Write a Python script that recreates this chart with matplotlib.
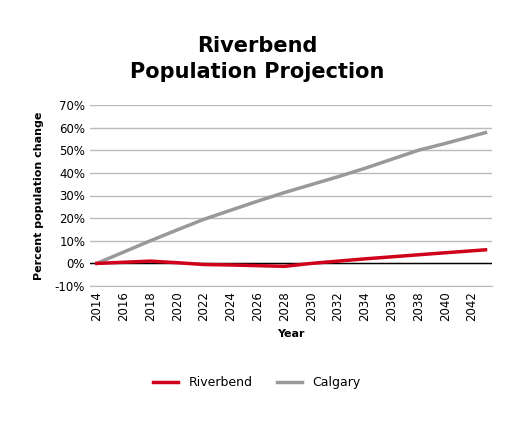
import matplotlib
matplotlib.use("Agg")
import matplotlib.pyplot as plt
from matplotlib.ticker import FuncFormatter

years = [2014, 2016, 2018, 2020, 2022, 2024, 2026, 2028, 2030, 2032, 2034, 2036, 2038, 2040, 2043]
riverbend = [0.0, 0.5, 1.0, 0.3, -0.5, -0.7, -1.0, -1.3, 0.0, 1.0, 2.0, 2.9, 3.8, 4.7, 6.0]
calgary = [0.0, 5.0, 10.0, 14.8, 19.5, 23.5, 27.5, 31.3, 34.8, 38.3, 42.0, 46.0, 50.0, 53.0, 57.8]
xticks = list(range(2014, 2043, 2))

fig = plt.figure(figsize=(5.09, 4.25), dpi=100)
ax = fig.add_axes([0.177, 0.327, 0.79, 0.426])
ax.plot(years, calgary, color="#999999", lw=2.5, label="Calgary", zorder=3)
ax.plot(years, riverbend, color="#D0021B", lw=2.5, label="Riverbend", zorder=4)
ax.axhline(0, color="black", lw=1, zorder=2)
ax.set_ylim(-10, 70)
ax.set_yticks(range(-10, 71, 10))
ax.yaxis.set_major_formatter(FuncFormatter(lambda v, p: f"{int(v)}%"))
ax.set_xlim(2013.5, 2043.5)
ax.set_xticks(xticks)
ax.set_xticklabels([str(x) for x in xticks], rotation=90)
ax.grid(axis="y", color="#BBBBBB", lw=1)
ax.set_axisbelow(True)
for s in ["top", "right", "left"]:
    ax.spines[s].set_visible(False)
ax.spines["bottom"].set_color("#BBBBBB")
ax.tick_params(axis="both", length=0, labelsize=8.5)
ax.set_xlabel("Year", fontsize=8, fontweight="bold", labelpad=6)
ax.set_ylabel("Percent population change", fontsize=8, fontweight="bold", labelpad=8)
fig.suptitle("Riverbend\nPopulation Projection", x=0.505, y=0.915, fontsize=15, fontweight="bold", linespacing=1.35)
h, l = ax.get_legend_handles_labels()
fig.legend([h[1], h[0]], [l[1], l[0]], loc="center", bbox_to_anchor=(0.505, 0.1), ncol=2, frameon=False, fontsize=9)
fig.savefig("out.png", dpi=100)
